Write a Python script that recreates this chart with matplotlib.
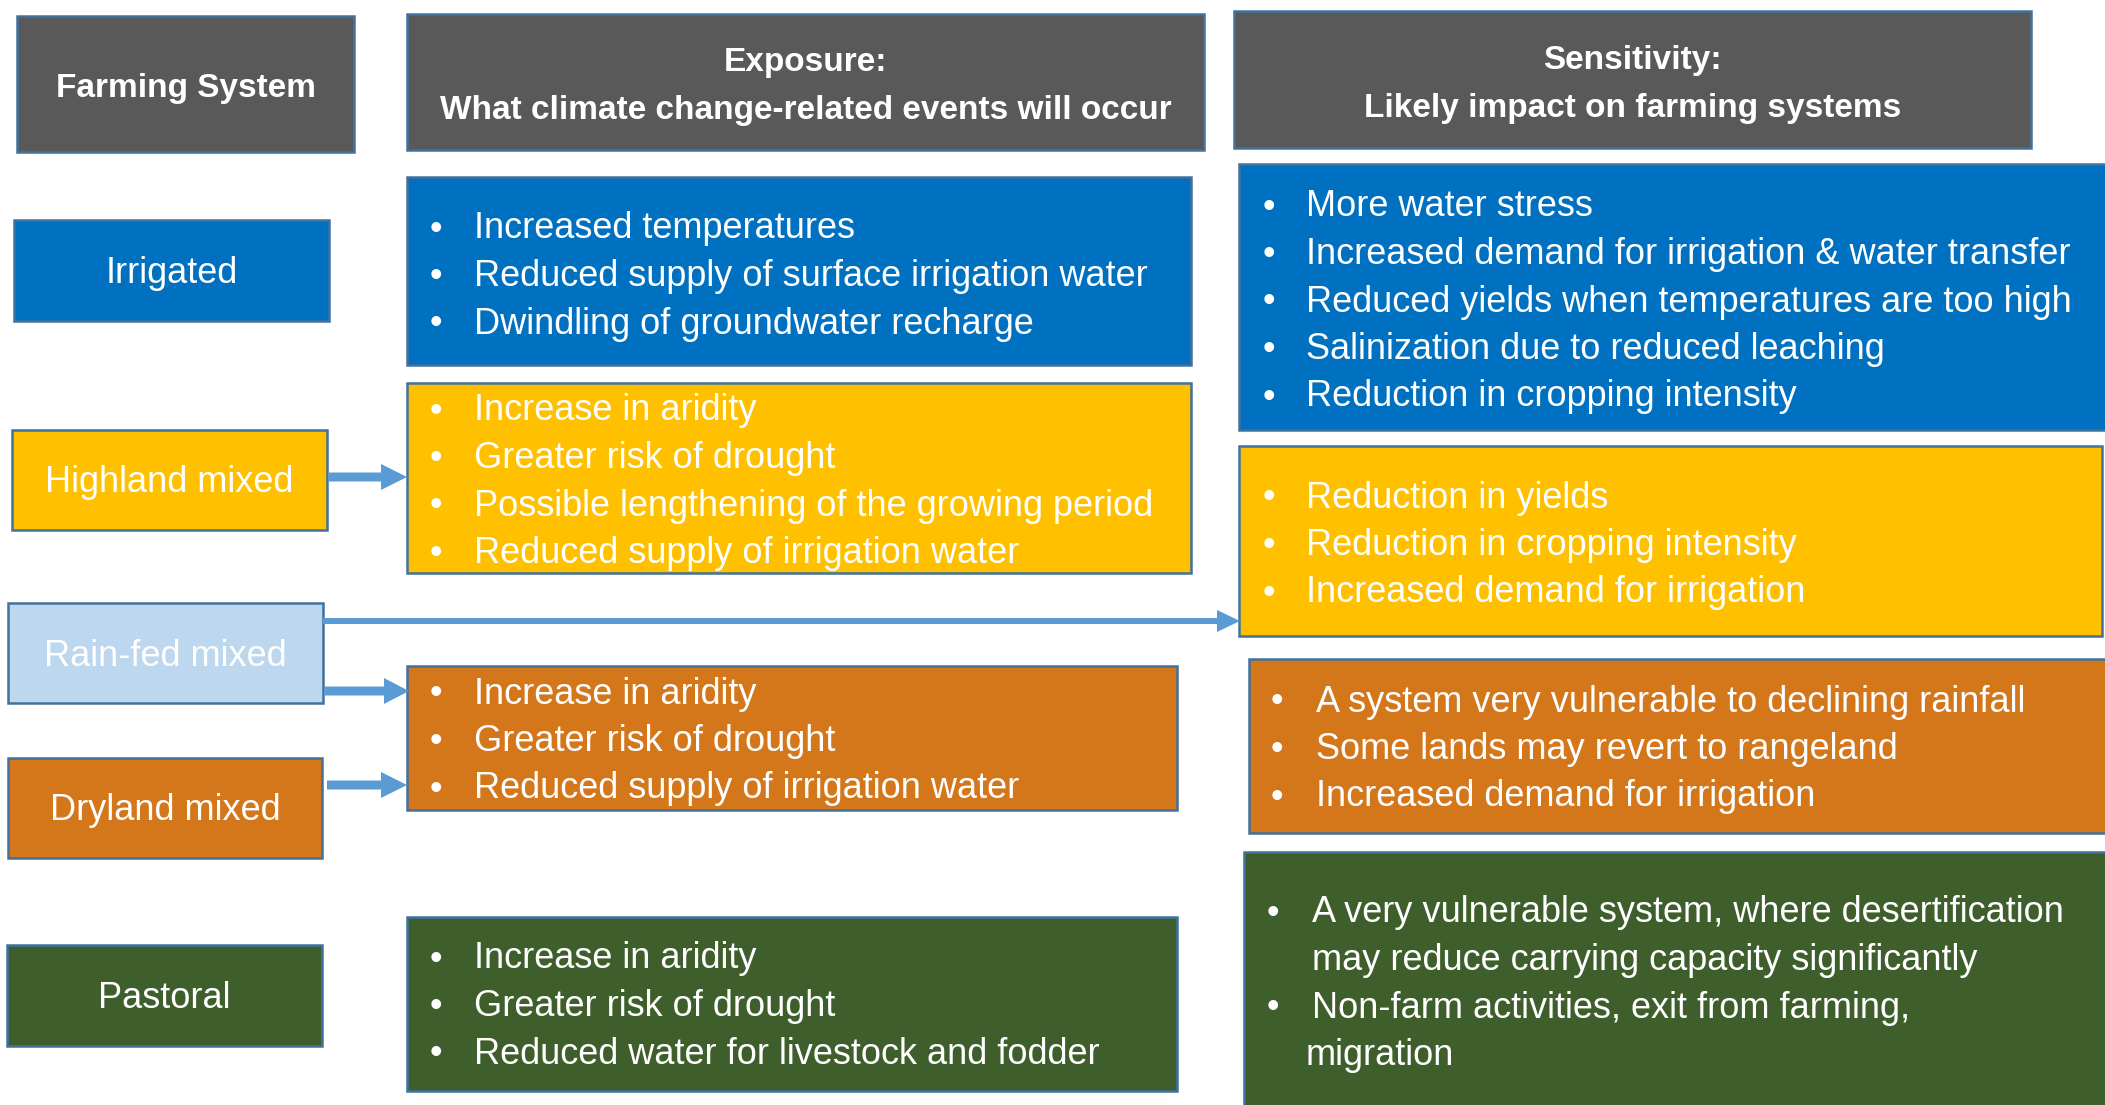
import matplotlib
matplotlib.use("Agg")
from matplotlib import pyplot as plt
from matplotlib.patches import Rectangle, FancyArrow

plt.rcParams['font.family'] = ['Liberation Sans Narrow', 'Liberation Sans', 'DejaVu Sans']

# ---- content ----
systems = ['Irrigated', 'Highland mixed', 'Rain-fed mixed', 'Dryland mixed', 'Pastoral']
system_colors = ['#0070C0', '#FFC000', '#BDD7EE', '#D4761A', '#3E5E2B']

header_texts = [['Farming System'],
                ['Exposure:', 'What climate change-related events will occur'],
                ['Sensitivity:', 'Likely impact on farming systems']]

exposure_items = [
    ['Increased temperatures',
     'Reduced supply of surface irrigation water',
     'Dwindling of groundwater recharge'],
    ['Increase in aridity',
     'Greater risk of drought',
     'Possible lengthening of the growing period',
     'Reduced supply of irrigation water'],
    ['Increase in aridity',
     'Greater risk of drought',
     'Reduced supply of irrigation water'],
    ['Increase in aridity',
     'Greater risk of drought',
     'Reduced water for livestock and fodder'],
]
exposure_colors = ['#0070C0', '#FFC000', '#D4761A', '#3E5E2B']

sensitivity_items = [
    ['More water stress',
     'Increased demand for irrigation & water transfer',
     'Reduced yields when temperatures are too high',
     'Salinization due to reduced leaching',
     'Reduction in cropping intensity'],
    ['Reduction in yields',
     'Reduction in cropping intensity',
     'Increased demand for irrigation'],
    ['A system very vulnerable to declining rainfall',
     'Some lands may revert to rangeland',
     'Increased demand for irrigation'],
    ['A very vulnerable system, where desertification\nmay reduce carrying capacity significantly',
     'Non-farm activities, exit from farming,\nmigration'],
]
sensitivity_colors = ['#0070C0', '#FFC000', '#D4761A', '#3E5E2B']

# ---- layout (pixel coords, y down) ----
W, H = 2105, 1105
EDGE = '#41719C'
ARROW = '#5B9BD5'
FS = 26
HFS = 24
LINE = 47.5

header_boxes = [(17, 16, 337, 136), (407, 14, 797, 136), (1234, 11, 797, 137)]
header_first = [[86], [60, 107], [58, 105]]
system_boxes = [(14, 220, 315, 101), (12, 430, 315, 100), (8, 603, 315, 100),
                (8, 758, 314, 100), (7, 945, 315, 101)]
exposure_boxes = [(407, 177, 784, 188), (407, 383, 784, 190),
                  (407, 666, 770, 144), (407, 917, 770, 174)]
exposure_first = [226, 408, 691, 956]
sensitivity_boxes = [(1239, 164, 870, 266), (1239, 446, 863, 190),
                     (1249, 659, 860, 174), (1244, 852, 865, 260)]
sensitivity_first = [204, 495, 699, 910]
sens_bullet_x = [1263, 1263, 1271, 1267]
sens_text_x = [1306, 1306, 1316, 1312]

fig = plt.figure(figsize=(W / 100, H / 100), dpi=100)
ax = fig.add_axes([0, 0, 1, 1])
ax.set_xlim(0, W)
ax.set_ylim(H, 0)
ax.axis('off')

DY = 3  # va='center' sits a touch high for this font


def box(x, y, w, h, color):
    ax.add_patch(Rectangle((x, y), w, h, facecolor=color, edgecolor=EDGE, linewidth=1.8, zorder=1))


def bullets(items, y0, bx, tx):
    y = y0
    for item in items:
        ax.text(bx, y + DY, '\u2022', color='white', fontsize=FS, va='center', ha='left', zorder=3)
        for k, line in enumerate(item.split('\n')):
            x = tx if k == 0 or line != 'migration' else tx - 6
            ax.text(x, y + DY, line, color='white', fontsize=FS, va='center', ha='left', zorder=3)
            y += LINE


# headers
for (x, y, w, h), lines, ys in zip(header_boxes, header_texts, header_first):
    box(x, y, w, h, '#595959')
    for line, ly in zip(lines, ys):
        ax.text(x + w / 2, ly + DY, line, color='white', fontsize=HFS, fontweight='bold',
                ha='center', va='center', zorder=3)

# farming systems
for (x, y, w, h), name, c in zip(system_boxes, systems, system_colors):
    box(x, y, w, h, c)
    ax.text(x + w / 2, y + h / 2 + DY, name, color='white', fontsize=FS, ha='center', va='center', zorder=3)

# exposure
for (x, y, w, h), items, c, y0 in zip(exposure_boxes, exposure_items, exposure_colors, exposure_first):
    box(x, y, w, h, c)
    bullets(items, y0, 430, 474)

# sensitivity
for (x, y, w, h), items, c, y0, bx, tx in zip(sensitivity_boxes, sensitivity_items, sensitivity_colors,
                                              sensitivity_first, sens_bullet_x, sens_text_x):
    box(x, y, w, h, c)
    bullets(items, y0, bx, tx)


# arrows
def arrow(x0, x1, y, width, head_w, head_l):
    ax.add_patch(FancyArrow(x0, y, x1 - x0, 0, width=width, head_width=head_w,
                            head_length=head_l, length_includes_head=True,
                            color=ARROW, linewidth=0, zorder=2))


arrow(328, 407, 477, 9, 26, 26)
arrow(323, 1240, 621, 6, 22, 23)
arrow(324, 409, 691, 9, 26, 25)
arrow(327, 407, 785, 9, 26, 26)

fig.savefig('out.png', dpi=100)
